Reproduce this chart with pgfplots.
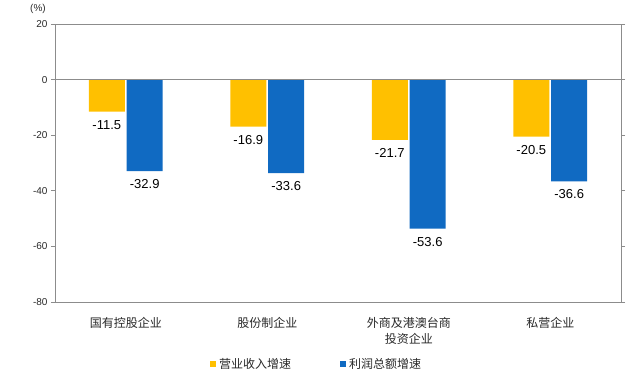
\documentclass[border=0pt]{standalone}
\usepackage{pgfplots}
\pgfplotsset{compat=1.18}
\usepackage{fontspec}
\setmainfont{Liberation Sans}
\newfontfamily\cjk{Noto Sans CJK SC}
\definecolor{cyel}{RGB}{255,192,0}
\definecolor{cblue}{RGB}{16,106,194}
\definecolor{cgrid}{RGB}{140,140,140}
\definecolor{ctxt}{RGB}{40,40,40}
\begin{document}
\begin{tikzpicture}[x=1pt,y=1pt]
\path[use as bounding box] (0,0) rectangle (644,380);
\begin{axis}[
  at={(55pt,78pt)}, anchor=south west,
  scale only axis, width=566pt, height=278pt,
  clip=false,
  xmin=-0.5, xmax=3.5, ymin=-80, ymax=20,
  ytick={-80,-60,-40,-20,0,20},
  xtick={0,1,2,3},
  xticklabels={国有控股企业,股份制企业,外商及港澳台商\\投资企业,私营企业},
  xticklabel style={font=\cjk\fontsize{12}{16}\selectfont, align=center, text=ctxt, yshift=-8pt},
  x tick style={draw=none},
  y tick style={draw=cgrid, line width=0.8pt},
  tick align=outside, major tick length=4pt,
  yticklabel style={font=\fontsize{10}{12}\selectfont, text=ctxt},
  /pgf/number format/assume math mode=true,
  axis line style={draw=cgrid, line width=0.8pt},
  ybar, bar width=0.254,
  nodes near coords,
  every node near coord/.append style={font=\fontsize{13}{15}\selectfont, text=black, yshift=-5pt,
    /pgf/number format/.cd, fixed, fixed zerofill, precision=1},
]
\addplot[fill=cyel, draw=none, bar shift=-0.134] coordinates {(0,-11.5) (1,-16.9) (2,-21.7) (3,-20.5)};
\addplot[fill=cblue, draw=none, bar shift=0.134] coordinates {(0,-32.9) (1,-33.6) (2,-53.6) (3,-36.6)};
\draw[cgrid, line width=0.8pt] (axis cs:-0.5,0) -- (axis cs:3.5,0);
\draw[cgrid, line width=0.9pt] (rel axis cs:0,0) rectangle (rel axis cs:1,1);
\end{axis}
\node[font=\fontsize{10}{12}\selectfont, text=ctxt] at (38,371) {(\%)};
\fill[cyel] (210,13) rectangle (216,19);
\node[anchor=west, font=\cjk\fontsize{12}{14}\selectfont, text=ctxt, inner sep=0pt] at (219,16) {营业收入增速};
\fill[cblue] (340,13) rectangle (346,19);
\node[anchor=west, font=\cjk\fontsize{12}{14}\selectfont, text=ctxt, inner sep=0pt] at (349,16) {利润总额增速};
\end{tikzpicture}
\end{document}
